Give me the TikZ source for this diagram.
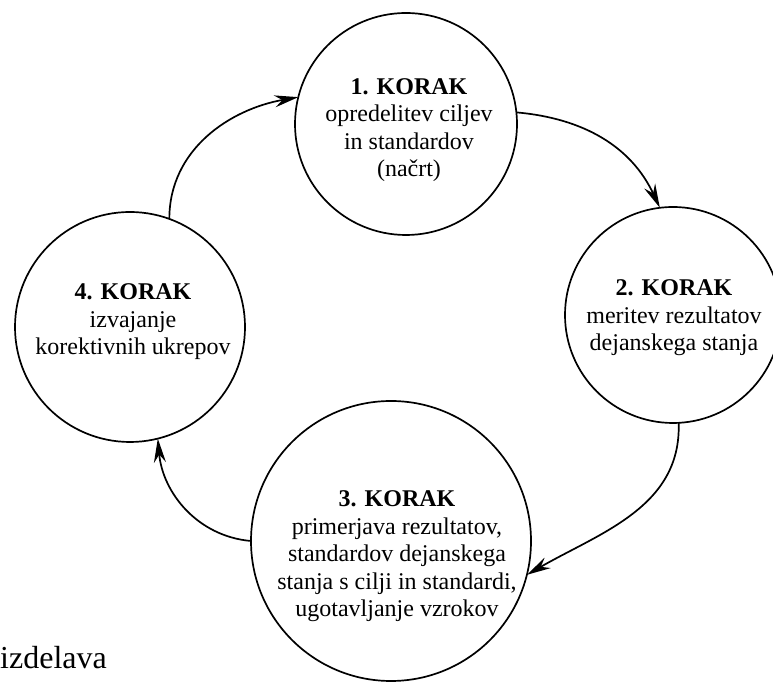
\documentclass[tikz,border=0pt]{standalone}
\usepackage{fontspec}
\setmainfont{Liberation Serif}
\usetikzlibrary{arrows.meta}
\begin{document}
\begin{tikzpicture}[x=1pt,y=1pt,
  stepcircle/.style={circle,draw,line width=1.7pt,inner sep=0pt,outer sep=0pt},
  steptext/.style={align=center,anchor=base,inner sep=0pt,
    font=\fontsize{24}{27.5}\selectfont},
  flow/.style={line width=1.7pt,
    -{Stealth[length=24pt,width=12pt,inset=8pt]}}]
\useasboundingbox (0,0) rectangle (773,684);

% the four steps of the cycle
\node[stepcircle,minimum size=222pt] (c1) at (406,560) {};
\node[stepcircle,minimum size=216pt] (c2) at (673,369) {};
\node[stepcircle,minimum size=280pt] (c3) at (391,143) {};
\node[stepcircle,minimum size=230pt] (c4) at (130,357) {};

% step descriptions (anchored at the baseline of their last line)
\node[steptext] (t1) at (409,507)
  {\textbf{1. KORAK}\\opredelitev ciljev\\in standardov\\(načrt)};
\node[steptext] (t2) at (674,333)
  {\textbf{2. KORAK}\\meritev rezultatov\\dejanskega stanja};
\node[steptext] (t3) at (397,67)
  {\textbf{3. KORAK}\\primerjava rezultatov,\\standardov dejanskega\\stanja s cilji in standardi,\\ugotavljanje vzrokov};
\node[steptext] (t4) at (133,329)
  {\textbf{4. KORAK}\\izvajanje\\korektivnih ukrepov};

% connectors between the steps
\draw[flow] (c1.6) to[out=-5,in=115] (c2.97);
\draw[flow] (c2.-87) to[out=-88,in=30] (c3.-14);
\draw[flow] (c3.180) to[out=175,in=-85] (c4.-76);
\draw[flow] (c4.70) to[out=90,in=190] (c1.166);

\node[anchor=base west,inner sep=0pt,font=\fontsize{32}{36}\selectfont]
  (note) at (0,15) {izdelava};
\end{tikzpicture}
\end{document}
